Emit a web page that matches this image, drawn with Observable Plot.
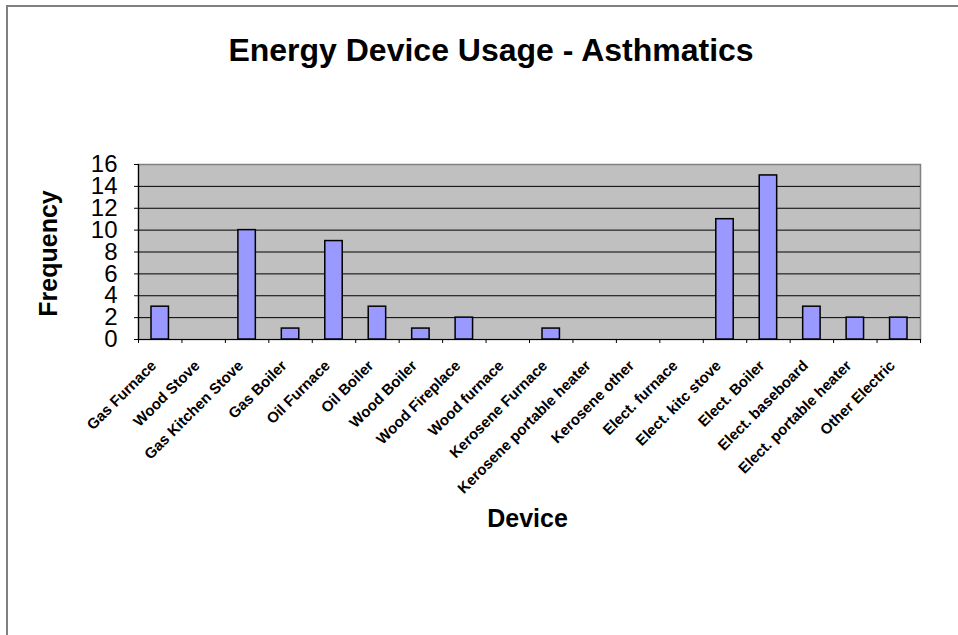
<!DOCTYPE html>
<html>
<head>
<meta charset="utf-8">
<script src="https://cdn.jsdelivr.net/npm/d3@7"></script>
<script src="https://cdn.jsdelivr.net/npm/@observablehq/plot@0.6"></script>
<style>
  html, body { margin: 0; padding: 0; background: #fff; overflow: hidden; }
  body { width: 958px; height: 635px; position: relative; font-family: "Liberation Sans", Arial, sans-serif; }
  #border { position: absolute; left: 6px; top: 5px; width: 1000px; height: 700px;
            border-left: 2px solid #808080; border-top: 2px solid #808080; }
  #title { position: absolute; left: 0; top: 34px; width: 982px; margin: 0; text-align: center;
           font-size: 32px; line-height: 32px; font-weight: bold; color: #000; }
  #chart { position: absolute; left: 0; top: 0; }
</style>
</head>
<body>
<div id="border"></div>
<div id="chart"></div>
<h1 id="title">Energy Device Usage - Asthmatics</h1>
<script>
// Heating / cooking devices and how many asthmatic households use each
const devices = [
  "Gas Furnace", "Wood Stove", "Gas Kitchen Stove", "Gas Boiler", "Oil Furnace",
  "Oil Boiler", "Wood Boiler", "Wood Fireplace", "Wood furnace", "Kerosene Furnace",
  "Kerosene portable heater", "Kerosene other", "Elect. furnace", "Elect. kitc stove",
  "Elect. Boiler", "Elect. baseboard", "Elect. portable heater", "Other Electric"
];
const frequency = [3, 0, 10, 1, 9, 3, 1, 2, 0, 1, 0, 0, 0, 11, 15, 3, 2, 2];
const yTicks = [0, 2, 4, 6, 8, 10, 12, 14, 16];
const yLabel = "Frequency";
const xLabel = "Device";

const rows = devices.map((device, i) => ({device, index: i, count: frequency[i]}));

const chart = Plot.plot({
  width: 958,
  height: 635,
  marginLeft: 138,
  marginRight: 38,
  marginTop: 164,
  marginBottom: 296,
  style: {fontFamily: "'Liberation Sans', Arial, sans-serif", color: "#000", background: "transparent"},
  x: {domain: [0, devices.length], axis: null},
  y: {domain: [0, 16], axis: null},
  marks: [
    Plot.frame({fill: "#c0c0c0", stroke: "#808080", strokeWidth: 1.5}),
    Plot.gridY(yTicks.filter(t => t > 0 && t < 16), {stroke: "#000", strokeOpacity: 1, strokeWidth: 1}),
    Plot.rectY(rows, {
      x1: "index", x2: d => d.index + 1, y: "count",
      insetLeft: 13, insetRight: 13,
      fill: "#9999ff", stroke: "#000", strokeWidth: 1.5
    }),
    Plot.ruleY([0], {stroke: "#000", strokeWidth: 1.2}),
    Plot.ruleX([0], {stroke: "#000", strokeWidth: 1.2}),
    Plot.axisY(yTicks, {tickSize: 4, tickPadding: 17, fontSize: 24, label: null}),
    Plot.axisX(d3.range(devices.length + 1), {tickSize: 4, tickFormat: () => "", label: null}),
    Plot.text(rows, {
      x: d => d.index + 0.5, text: "device", frameAnchor: "bottom",
      rotate: -45, textAnchor: "end", dx: -3, dy: 27,
      fontSize: 15, fontWeight: "bold", fill: "#000"
    }),
    Plot.text([yLabel], {
      frameAnchor: "left", textAnchor: "middle", rotate: -90, dx: -90, dy: 1.5,
      fontSize: 25, fontWeight: "bold", fill: "#000"
    }),
    Plot.text([xLabel], {
      frameAnchor: "bottom", textAnchor: "middle", dx: -2, dy: 187,
      fontSize: 25, fontWeight: "bold", fill: "#000"
    })
  ]
});

document.getElementById("chart").appendChild(chart);
</script>
</body>
</html>
